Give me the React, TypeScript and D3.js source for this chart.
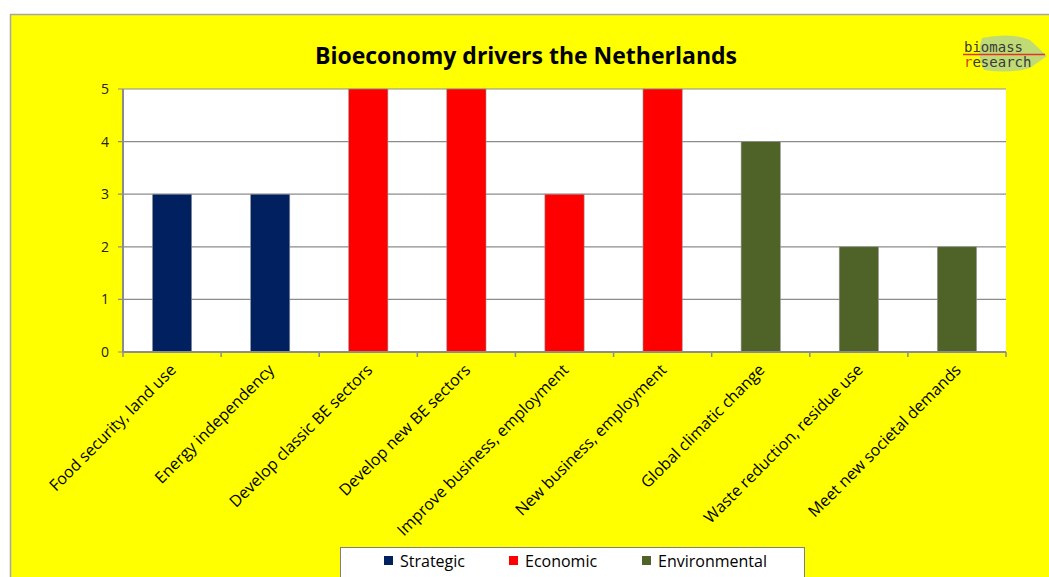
import React from "react";
import * as d3 from "d3";

const categories = [
  "Food security, land use",
  "Energy independency",
  "Develop classic BE sectors",
  "Develop new BE sectors",
  "Improve business, employment",
  "New business, employment",
  "Global climatic change",
  "Waste reduction, residue use",
  "Meet new societal demands",
];
const values = [3, 3, 5, 5, 3, 5, 4, 2, 2];
const groups = ["Strategic", "Strategic", "Economic", "Economic", "Economic", "Economic", "Environmental", "Environmental", "Environmental"];
const legendItems = ["Strategic", "Economic", "Environmental"];
const yTicks = [0, 1, 2, 3, 4, 5];

const colors: Record<string, string> = {
  Strategic: "#002060",
  Economic: "#FF0000",
  Environmental: "#4F6228",
};

export default function App() {
  const W = 1049, H = 577;
  const left = 123, right = 1006, top = 89, bottom = 352;
  const x = d3.scaleBand<string>().domain(categories).range([left, right]).paddingInner(0.6).paddingOuter(0.3);
  const xc = d3.scaleBand<string>().domain(categories).range([left, right]);
  const y = d3.scaleLinear().domain([0, 5]).range([bottom, top]);
  const font = "'Open Sans', sans-serif";
  const legendX = [384, 509, 642];

  return (
    <svg width={W} height={H} style={{ position: "absolute", left: 0, top: 0, background: "#fff" }}>
      <rect x={10.5} y={14.5} width={1045} height={600} fill="#FFFF00" stroke="#A6A6A6" strokeWidth={1.5} />
      <text x={526} y={64} textAnchor="middle" fontFamily={font} fontWeight="bold" fontSize={23} fill="#000">
        Bioeconomy drivers the Netherlands
      </text>
      {/* logo */}
      <g>
        <path d="M 982 38 Q 1010 32 1030 40 L 1047 56 L 1030 68 Q 1010 74 984 70 Q 976 54 982 38 Z" fill="#B5D58A" opacity={0.85} />
        <text x={964} y={52} fontFamily="'DejaVu Sans Mono', monospace" fontSize={14} fill="#3a3a3a">biomass</text>
        <line x1={963} y1={54.5} x2={1045} y2={54.5} stroke="#E53030" strokeWidth={1.5} />
        <text x={964} y={67} fontFamily="'DejaVu Sans Mono', monospace" fontSize={14} fill="#3a3a3a">
          <tspan fill="#D04020">r</tspan>esearch
        </text>
      </g>
      <rect x={left} y={top} width={right - left} height={bottom - top} fill="#fff" />
      {yTicks.map((t) => (
        <g key={t}>
          <line x1={left - 5} x2={right} y1={y(t)} y2={y(t)} stroke="#8C8C8C" strokeWidth={1.2} />
          <text x={109} y={y(t) + 5} textAnchor="end" fontFamily={font} fontSize={14} fill="#222">{t}</text>
        </g>
      ))}
      {categories.map((c, i) => (
        <rect key={c} x={x(c)} y={y(values[i])} width={x.bandwidth()} height={y(0) - y(values[i])} fill={colors[groups[i]]} stroke="#999" strokeWidth={0.6} />
      ))}
      <line x1={left} x2={left} y1={top} y2={bottom} stroke="#8C8C8C" strokeWidth={2} />
      <line x1={left} x2={right} y1={bottom} y2={bottom} stroke="#8C8C8C" strokeWidth={2} />
      {[...categories.map((c) => xc(c) as number), right].map((v, i) => (
        <line key={i} x1={v} x2={v} y1={bottom} y2={bottom + 5} stroke="#8C8C8C" strokeWidth={1.5} />
      ))}
      {categories.map((c) => {
        const cx = (xc(c) as number) + xc.bandwidth() / 2 + 5;
        const cy = bottom + 19;
        return (
          <text key={c} x={cx} y={cy} transform={`rotate(-45 ${cx} ${cy})`} textAnchor="end" fontFamily={font} fontSize={16} fill="#000">
            {c}
          </text>
        );
      })}
      <rect x={340.5} y={547.5} width={464} height={40} fill="#fff" stroke="#7F7F7F" strokeWidth={1} />
      {legendItems.map((g, i) => (
        <g key={g}>
          <rect x={legendX[i]} y={556} width={9} height={9} fill={colors[g]} />
          <text x={legendX[i] + 16} y={566.5} fontFamily={font} fontSize={16} fill="#000">{g}</text>
        </g>
      ))}
    </svg>
  );
}
